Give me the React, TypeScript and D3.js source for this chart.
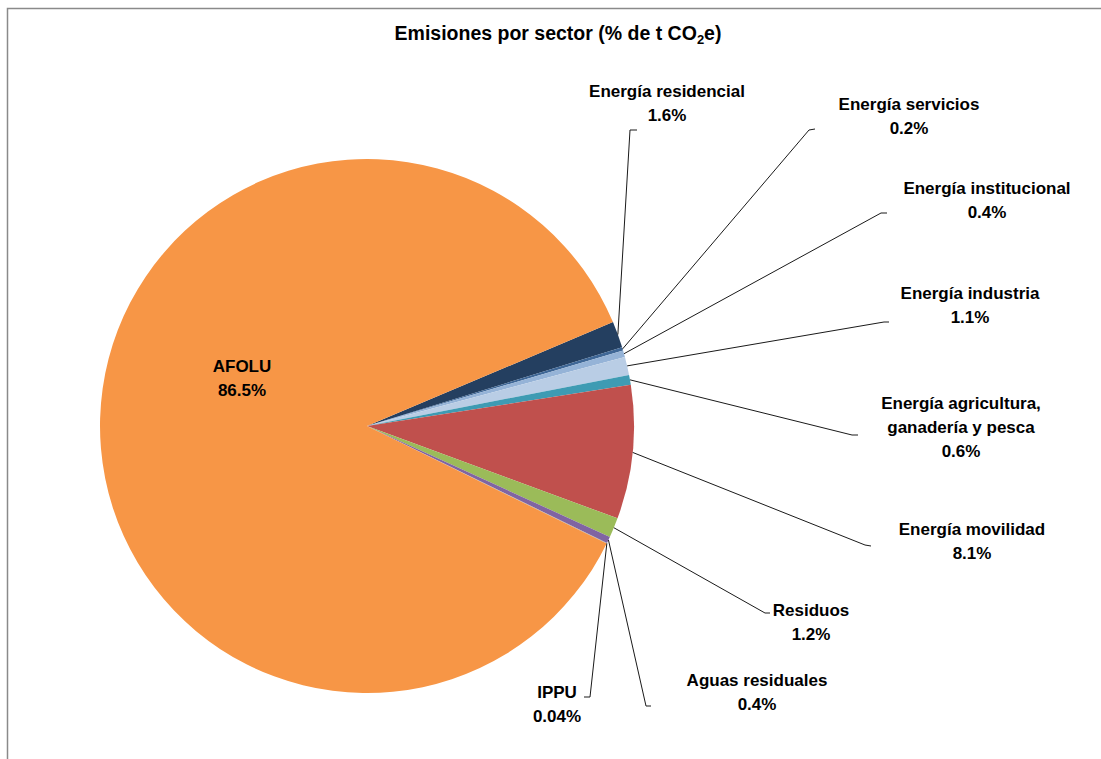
import React from 'react';
import * as d3 from 'd3';

// ---- data ----
const categories = [
  'Energía residencial',
  'Energía servicios',
  'Energía institucional',
  'Energía industria',
  'Energía agricultura, ganadería y pesca',
  'Energía movilidad',
  'Residuos',
  'Aguas residuales',
  'IPPU',
  'AFOLU',
];
const values = [1.6, 0.2, 0.4, 1.1, 0.6, 8.1, 1.2, 0.4, 0.04, 86.5];
const categoryLines = [
  ['Energía residencial'],
  ['Energía servicios'],
  ['Energía institucional'],
  ['Energía industria'],
  ['Energía agricultura,', 'ganadería y pesca'],
  ['Energía movilidad'],
  ['Residuos'],
  ['Aguas residuales'],
  ['IPPU'],
  ['AFOLU'],
];
const colors = [
  '#243F60',
  '#3F6796',
  '#95B3D7',
  '#B9CDE5',
  '#3E9BB3',
  '#C0504D',
  '#9BBB59',
  '#8064A2',
  '#A4A4A4',
  '#F79646',
];

// ---- layout (label placement, not data) ----
const labelLayout = [
  { x: 667, y: 96.5, ex: 630, ey: 130, tx: 637, ty: 130 },
  { x: 909, y: 110, ex: 809, ey: 130, tx: 815, ty: 129 },
  { x: 987, y: 194, ex: 881, ey: 213, tx: 887, ty: 213 },
  { x: 970, y: 299, ex: 884, ey: 322, tx: 889, ty: 322 },
  { x: 961, y: 409, ex: 852, ey: 435, tx: 858, ty: 435 },
  { x: 972, y: 535, ex: 865, ey: 545, tx: 871, ty: 546 },
  { x: 811, y: 616, ex: 765, ey: 613, tx: 770, ty: 613 },
  { x: 757, y: 686, ex: 646, ey: 706, tx: 651, ty: 706 },
  { x: 557, y: 698, ex: 590, ey: 697, tx: 584, ty: 697 },
  { x: 242, y: 372, ex: null, ey: null, tx: null, ty: null },
];

const W = 1101;
const H = 759;
const cx = 367;
const cy = 426;
const R = 267;
const startDeg = 67.1;
const FONT = "'Liberation Sans', Arial, sans-serif";

export default function App() {
  const pie = d3
    .pie<number>()
    .sort(null)
    .value((d) => d)
    .startAngle((startDeg * Math.PI) / 180)
    .endAngle(((startDeg + 360) * Math.PI) / 180);
  const arcs = pie(values);
  const arcGen = d3.arc<d3.PieArcDatum<number>>().innerRadius(0).outerRadius(R);

  const lineH = 24;

  return (
    <svg
      width={W}
      height={H}
      style={{ position: 'absolute', left: 0, top: 0, background: '#fff' }}
    >
      <rect x={0} y={0} width={W} height={H} fill="#fff" />
      <rect x={7.5} y={8.5} width={W + 50} height={H + 50} fill="none" stroke="#8a8a8a" strokeWidth={1.5} />
      <text
        x={558}
        y={39.5}
        textAnchor="middle"
        fontFamily={FONT}
        fontWeight="bold"
        fontSize={19.5}
        fill="#000"
      >
        Emisiones por sector (% de t CO
        <tspan fontSize={13} dy={4}>2</tspan>
        <tspan dy={-4}>e)</tspan>
      </text>
      <g transform={`translate(${cx},${cy})`}>
        {arcs.map((a, i) => (
          <path key={categories[i]} d={arcGen(a) || ''} fill={colors[i]} />
        ))}
      </g>
      {arcs.map((a, i) => {
        const L = labelLayout[i];
        if (L.ex === null) return null;
        const mid = (a.startAngle + a.endAngle) / 2;
        const sx = cx + Math.sin(mid) * R;
        const sy = cy - Math.cos(mid) * R;
        const path = d3.path();
        path.moveTo(sx, sy);
        path.lineTo(L.ex as number, L.ey as number);
        path.lineTo(L.tx as number, L.ty as number);
        return (
          <path
            key={'leader-' + i}
            d={path.toString()}
            fill="none"
            stroke="#1a1a1a"
            strokeWidth={1}
          />
        );
      })}
      {arcs.map((a, i) => {
        const L = labelLayout[i];
        const lines = [...categoryLines[i], `${values[i]}%`];
        return (
          <text
            key={'label-' + i}
            textAnchor="middle"
            fontFamily={FONT}
            fontWeight="bold"
            fontSize={17}
            fill="#000"
          >
            {lines.map((t, j) => (
              <tspan key={j} x={L.x} y={L.y + j * lineH}>
                {t}
              </tspan>
            ))}
          </text>
        );
      })}
    </svg>
  );
}
